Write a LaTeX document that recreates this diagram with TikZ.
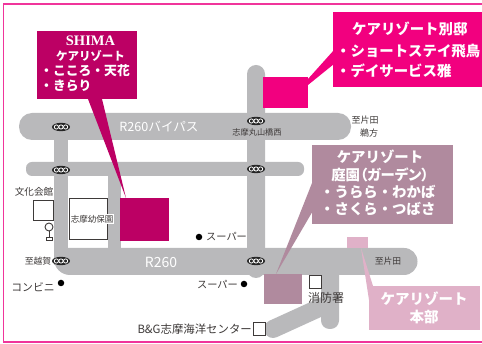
\documentclass[tikz,border=0pt]{standalone}
\usepackage{fontspec}
\setmainfont{Noto Sans CJK JP}
\newfontfamily\latinserif{Liberation Serif}
\newfontfamily\tightjp[RawFeature=+palt]{Noto Sans CJK JP}
\definecolor{roadgray}{HTML}{B9B9BB}
\definecolor{shimac}{HTML}{BC0064}
\definecolor{bessoc}{HTML}{F2007F}
\definecolor{teienc}{HTML}{B08A9E}
\definecolor{honbuc}{HTML}{E0B1C8}
\definecolor{framec}{HTML}{F0359B}
\definecolor{inkc}{HTML}{3E3A39}
\tikzset{
  road/.style={fill=roadgray,draw=none},
  maplabel/.style={inner sep=0pt,text=inkc,font=\fontsize{#1}{#1}\selectfont},
  maplabel/.default=9,
  roadlabel/.style={inner sep=0pt,text=white,font=\fontsize{#1}{#1}\selectfont},
  callout/.style={inner sep=0pt,text=white,font=\bfseries\fontsize{#1}{#1}\selectfont},
  poi/.style={draw=inkc,line width=1pt,fill=white,inner sep=0pt,outer sep=0pt},
  dotmark/.style={circle,fill=black,inner sep=0pt,minimum size=6.5pt},
  signal/.pic={
    \fill[black!85] (0,0) ellipse (9pt and 4.2pt);
    \foreach \dx in {-4.6,0,4.6} \draw[white,line width=.8pt] (\dx pt,0) circle (2.1pt);
  }
}
\begin{document}
\begin{tikzpicture}[x=1pt,y=-1pt]
\useasboundingbox (0,0) rectangle (482,344);
\fill[white] (0,0) rectangle (482,344);
% frame
\draw[framec,line width=1.1pt] (482,4) -- (3.5,4) -- (3.5,342) -- (482,342);
% roads
\fill[road] (54,135) rectangle (68,265);
\fill[road] (108,170) rectangle (121,255);
\fill[road,rounded corners=13pt] (19,113) rectangle (351,140);
\fill[road,rounded corners=6pt] (26,162) rectangle (304,176);
\fill[road,rounded corners=9pt] (247,65) rectangle (265,278);
\fill[road] (54,248) -- (404,248) arc[start angle=-90,end angle=90,radius=13.5] -- (70,275) arc[start angle=90,end angle=180,radius=16] -- cycle;
\fill[road,rounded corners=8.5pt] (321,265) rectangle (339,329);
\draw[roadgray,line width=18pt,line cap=round] (273,329) -- (330,303);
% kindergarten
\node[poi,minimum width=38pt,minimum height=41pt] (kinder) at (88,219.5) {};
\node[inner sep=.6pt,fill=white,text=inkc,font=\fontsize{8.5}{8.5}\selectfont] (kinderlabel) at (92,219) {志摩幼保園};
% signals
\foreach \p/\q in {61/127,61/170,61/261,256/121,256/169,256/261} \pic at (\p,\q) {signal};
% road labels
\node[roadlabel=12.6] (bypass) at (159,127) {R260バイパス};
\node[roadlabel=14] (r260) at (161,262) {R260};
% map labels
\node[maplabel=8.2] (maruyama) at (257,132) {志摩丸山橋西};
\node[maplabel=9] (katada1) at (365,120) {至片田};
\node[maplabel=9] (ugata) at (369,133) {鵜方};
\node[maplabel=8.8] (katada2) at (388,261) {至片田};
\node[maplabel=8.8] (koshika) at (38,261) {至越賀};
\node[maplabel=9.6] (bunka) at (34,192) {文化会館};
\node[maplabel=10.8] (konbini) at (33,287) {コンビニ};
\node[dotmark] (dconv) at (61,283) {};
\node[dotmark] (dsup1) at (199,237) {};
\node[maplabel=10.2,anchor=west] (sup1) at (206,237) {スーパー};
\node[maplabel=10.2,anchor=east] (sup2) at (238,285) {スーパー};
\node[dotmark] (dsup2) at (244,284) {};
\node[maplabel=12] (fire) at (326,298) {消防署};
\node[maplabel=11.4,anchor=east] (bg) at (252,329) {B\&G志摩海洋センター};
% POI
\node[poi,minimum width=20pt,minimum height=20pt] (bunkasq) at (43,211) {};
\draw[inkc,line width=.9pt] (49,227) circle (4pt);
\draw[inkc,line width=.9pt] (49,231) -- (49,237);
\draw[inkc,line width=.9pt] (46,237) rectangle (52,240);
\node[poi,minimum width=12pt,minimum height=13pt] (firesq) at (315,282.5) {};
\node[poi,minimum width=12pt,minimum height=13pt] (bgsq) at (259,329.5) {};
% SHIMA
\fill[shimac] (120,198) rectangle (169,241);
\fill[shimac] (88,99) -- (102,99) -- (126,198) -- cycle;
\node[fill=shimac,minimum width=100pt,minimum height=68pt,inner sep=0pt] (shima) at (87,65) {};
\node[callout=14.5] at (90.5,41) {\latinserif SHIMA};
\node[callout=11.5] at (90.5,56) {ケアリゾート};
\node[callout=12.8,anchor=west] at (40,71) {・こころ・天花};
\node[callout=12.8,anchor=west] at (40,85.5) {・きらり};
% Besso
\fill[bessoc] (263,77) rectangle (308,108);
\fill[bessoc] (308,79) -- (334,50) -- (334,64) -- (308,85) -- cycle;
\node[fill=bessoc,minimum width=149pt,minimum height=75pt,inner sep=0pt] (besso) at (407.5,49.5) {};
\node[callout=14.4,anchor=west] at (352,29) {ケアリゾート別邸};
\node[callout=14.4,anchor=west] at (336,50.7) {・ショートステイ飛鳥};
\node[callout=14.4,anchor=west] at (336,71) {・デイサービス雅};
% Teien
\fill[teienc] (264,274) rectangle (302,304);
\fill[teienc] (276,274) -- (314,178) -- (314,209) -- cycle;
\node[fill=teienc,minimum width=141pt,minimum height=79pt,inner sep=0pt] (teien) at (382.5,184.5) {};
\node[callout=14.4] at (380,157) {ケアリゾート};
\node[callout=14.4] at (380,175) {\tightjp\bfseries 庭園（ガーデン）};
\node[callout=14.4,anchor=west] at (320,192) {・うらら・わかば};
\node[callout=14.4,anchor=west] at (320,209) {・さくら・つばさ};
% Honbu
\fill[honbuc] (347,237) rectangle (368,248);
\fill[honbuc] (361,248) -- (369,300) -- (373,286) -- cycle;
\node[fill=honbuc,minimum width=111pt,minimum height=44pt,inner sep=0pt] (honbu) at (424.5,308) {};
\node[callout=14.5] at (424,299) {ケアリゾート};
\node[callout=14.5] at (424,317) {本部};
\end{tikzpicture}
\end{document}
